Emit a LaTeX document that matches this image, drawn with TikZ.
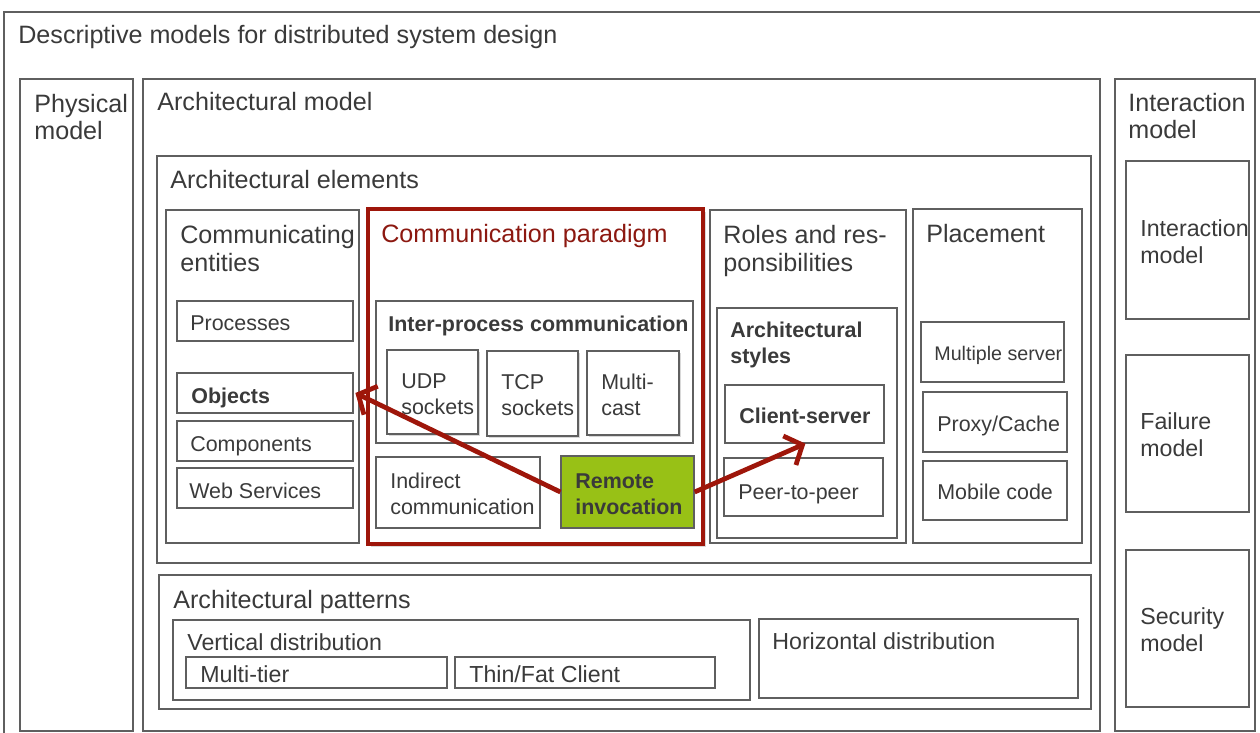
\documentclass[tikz,border=0pt]{standalone}
\usepackage{fontspec}
\setmainfont{Liberation Sans}
\usetikzlibrary{fit, shadows, arrows.meta}

\definecolor{txtgray}{RGB}{58,58,58}
\definecolor{linegray}{RGB}{95,95,95}
\definecolor{darkred}{RGB}{158,22,10}
\definecolor{titlered}{RGB}{140,24,16}
\definecolor{limegreen}{RGB}{152,193,22}

\newcommand{\fbig}{\fontsize{14.3}{15.5}\selectfont}
\newcommand{\fmid}{\fontsize{13.2}{15.1}\selectfont}
\newcommand{\fsml}{\fontsize{12.2}{14.6}\selectfont}

\begin{document}
\begin{tikzpicture}[x=0.02cm, y=-0.02cm,
	box/.style={draw=linegray, line width=0.7pt, inner sep=0pt},
	shbox/.style={box, fill=white, drop shadow={opacity=0.3, shadow xshift=1.2pt, shadow yshift=-1.4pt}},
	lbl/.style={anchor=base west, inner sep=0pt, align=left, text=txtgray},
	big/.style={lbl, font=\fbig},
	mid/.style={lbl, font=\fmid},
	sml/.style={lbl, font=\fsml},
	bsml/.style={lbl, font=\fsml\bfseries},
	arr/.style={draw=darkred, line width=2.7pt, -{Straight Barb[length=8pt, width=18pt, line width=2.7pt]}}]

	\useasboundingbox (0,0) rectangle (1260,733);
	\clip (0,0) rectangle (1260,733);

	% outer frame and the three models
	% (two-line labels sit on the baseline of their last line)
	\node[box, fit={(4,12) (1280,760)}] (desc) {};
	\node[big] (tdesc) at (18,44) {Descriptive models for distributed system design};

	\node[box, fit={(20,79) (133,731)}] (phys) {};
	\node[big] (tphys) at (34,140) {Physical\\model};

	\node[box, fit={(143,79) (1100,731)}] (arch) {};
	\node[big] (tarch) at (157,111) {Architectural model};

	\node[box, fit={(1115,79) (1255,731)}] (inter) {};
	\node[big] (tinter) at (1128,139) {Interaction\\model};

	% interaction column
	\node[box, fit={(1126,161) (1249,319)}] (imod) {};
	\node[mid] (timod) at (1140,263) {Interaction\\model};
	\node[box, fit={(1126,355) (1249,512)}] (fmod) {};
	\node[mid] (tfmod) at (1140,456) {Failure\\model};
	\node[box, fit={(1126,550) (1249,707)}] (smod) {};
	\node[mid] (tsmod) at (1140,651) {Security\\model};

	% architectural elements
	\node[box, fit={(157,156) (1091,563)}] (elem) {};
	\node[big] (telem) at (170,189) {Architectural elements};

	\node[box, fit={(166,210) (359,543)}] (ent) {};
	\node[big] (tent) at (180,271) {Communicating\\entities};
	\node[box, fit={(177,301) (353,341)}] (proc) {};
	\node[sml] (tproc) at (190,330) {Processes};
	\node[box, fit={(177,373) (353,413)}] (objects) {};
	\node[bsml] (tobjects) at (191,403) {Objects};
	\node[box, fit={(177,421) (353,461)}] (comp) {};
	\node[sml] (tcomp) at (190,451) {Components};
	\node[box, fit={(177,468) (353,508)}] (web) {};
	\node[sml] (tweb) at (189,498) {Web Services};

	\node[box, draw=darkred, line width=2.3pt, fill=white,
		drop shadow={opacity=0.3, shadow xshift=1.5pt, shadow yshift=-1.5pt},
		fit={(368,209) (703,544)}] (para) {};
	\node[big, text=titlered] (tpara) at (381,242) {Communication paradigm};
	\node[box, fit={(376,301) (693,443)}] (ipc) {};
	\node[bsml] (tipc) at (388,331) {Inter-process communication};
	\node[shbox, fit={(387,350) (478,434)}] (udp) {};
	\node[sml] (tudp) at (401,414) {UDP\\sockets};
	\node[shbox, fit={(487,351) (578,436)}] (tcp) {};
	\node[sml] (ttcp) at (501,415) {TCP\\sockets};
	\node[shbox, fit={(587,351) (679,435)}] (mcast) {};
	\node[sml] (tmcast) at (601,415) {Multi-\\cast};
	\node[box, fit={(376,457) (540,528)}] (indir) {};
	\node[sml] (tindir) at (390,514) {Indirect\\communication};
	\node[box, fill=limegreen, fit={(561,456) (694,528)}] (remote) {};
	\node[bsml] (tremote) at (575,514) {Remote\\invocation};

	\node[box, fit={(710,210) (906,543)}] (roles) {};
	\node[big] (troles) at (723,271) {Roles and res-\\ponsibilities};
	\node[box, fit={(717,308) (897,538)}] (styles) {};
	\node[bsml] (tstyles) at (730,363) {Architectural\\styles};
	\node[box, fit={(725,385) (884,443)}] (client) {};
	\node[bsml] (tclient) at (739,423) {Client-server};
	\node[box, fit={(724,458) (883,516)}] (peer) {};
	\node[sml] (tpeer) at (738,499) {Peer-to-peer};

	\node[box, fit={(913,209) (1082,543)}] (place) {};
	\node[big] (tplace) at (926,242) {Placement};
	\node[box, fit={(921,322) (1064,382)}] (multi) {};
	\node[lbl, font=\fontsize{11.2}{13}\selectfont] (tmulti) at (934,360) {Multiple server};
	\node[box, fit={(923,392) (1067,452)}] (proxy) {};
	\node[sml] (tproxy) at (937,431) {Proxy/Cache};
	\node[box, fit={(923,461) (1067,520)}] (mobile) {};
	\node[sml] (tmobile) at (937,499) {Mobile code};

	% architectural patterns
	\node[box, fit={(159,575) (1091,709)}] (patt) {};
	\node[big] (tpatt) at (173,608) {Architectural patterns};
	\node[box, fit={(173,620) (750,700)}] (vert) {};
	\node[mid] (tvert) at (187,650) {Vertical distribution};
	\node[box, fit={(186,657) (447,688)}] (tier) {};
	\node[mid] (ttier) at (200,682) {Multi-tier};
	\node[box, fit={(455,657) (715,688)}] (thin) {};
	\node[mid] (tthin) at (469,682) {Thin/Fat Client};
	\node[box, fit={(759,619) (1078,698)}] (horiz) {};
	\node[mid] (thoriz) at (772,649) {Horizontal distribution};

	% remote invocation arrows
	\draw[arr] (remote.west) -- ([xshift=1pt]objects.east);
	\draw[arr] (remote.east) -- ([xshift=0.5pt]client.south);
\end{tikzpicture}
\end{document}
